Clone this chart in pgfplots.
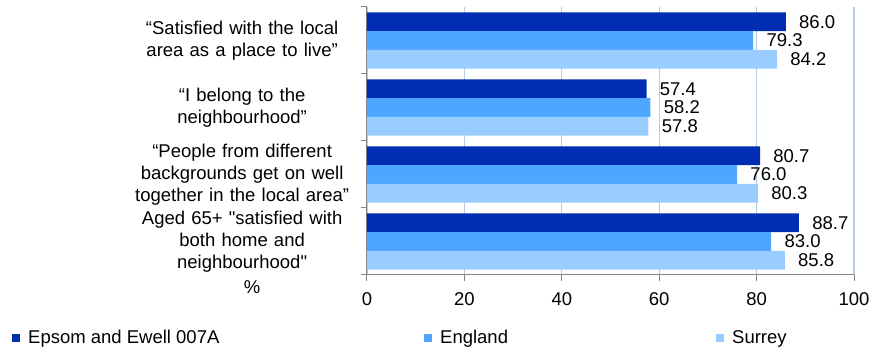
\documentclass[border=0pt]{standalone}
\usepackage{pgfplots}
\pgfplotsset{compat=1.18}
\usepackage{fontspec}
\setmainfont{Liberation Sans}
\definecolor{cA}{RGB}{0,45,178}
\definecolor{cB}{RGB}{77,166,255}
\definecolor{cC}{RGB}{153,204,255}
\definecolor{gridc}{RGB}{185,202,228}
\definecolor{axc}{RGB}{134,134,134}
\begin{document}
\fontsize{18.5}{22}\selectfont
\begin{tikzpicture}
\path[use as bounding box] (-367pt,-75pt) rectangle (503pt,275pt);
\begin{axis}[
  at={(0,0)}, anchor=south west,
  scale only axis, width=487pt, height=268pt,
  xbar, bar width=18.7pt,
  xmin=0, xmax=100, ymin=-0.5, ymax=3.5,
  axis lines*=left,
  axis line style={axc, line width=1pt},
  xtick={0,20,40,60,80,100},
  xmajorgrids, grid style={gridc, line width=1.3pt},
  ytick={0,1,2,3},
  yticklabels={{Aged 65+ \textquotedbl satisfied with\\both home and\\neighbourhood\textquotedbl},
               {“People from different\\backgrounds get on well\\together in the local area”},
               {“I belong to the\\neighbourhood”},
               {“Satisfied with the local\\area as a place to live”}},
  yticklabel style={text width=225pt, align=center, font=\fontsize{18.5}{22}\selectfont},
  xticklabel style={font=\fontsize{18.5}{22}\selectfont, yshift=-5pt},
  minor ytick={-0.5,0.5,1.5,2.5,3.5},
  major tick length=6pt, minor tick length=6pt,
  tick align=outside,
  tick style={axc, line width=1pt},
  y tick style={/pgfplots/major tick length=0pt},
  /pgf/number format/assume math mode=true,
  nodes near coords={\pgfmathprintnumber[fixed,fixed zerofill,precision=1,assume math mode=true]{\pgfplotspointmeta}},
  nodes near coords style={font=\fontsize{18.5}{22}\selectfont, anchor=west, xshift=7pt, black},
  xlabel={\%},
  x label style={at={(axis description cs:-0.236,-0.045)}, anchor=center, font=\fontsize{18.5}{22}\selectfont},
  legend columns=3,
  legend style={draw=none, fill=none, inner sep=0pt, at={(axis description cs:-0.729,-0.235)}, anchor=west,
    font=\fontsize{18.5}{22}\selectfont, /tikz/column sep=0pt},
  legend cell align=left,
  legend image code/.code={\fill[#1] (0pt,-4pt) rectangle (8pt,4pt); \path (14pt,0pt);},
]
\addplot[fill=cA, draw=none, bar shift=18.7pt] coordinates {(86.0,3) (57.4,2) (80.7,1) (88.7,0)};
\addlegendentry{\makebox[394pt][l]{Epsom and Ewell 007A}}
\addplot[fill=cB, draw=none, bar shift=0pt] coordinates {(79.3,3) (58.2,2) (76.0,1) (83.0,0)};
\addlegendentry{\makebox[274pt][l]{England}}
\addplot[fill=cC, draw=none, bar shift=-18.7pt] coordinates {(84.2,3) (57.8,2) (80.3,1) (85.8,0)};
\addlegendentry{Surrey}
\end{axis}
\end{tikzpicture}
\end{document}
